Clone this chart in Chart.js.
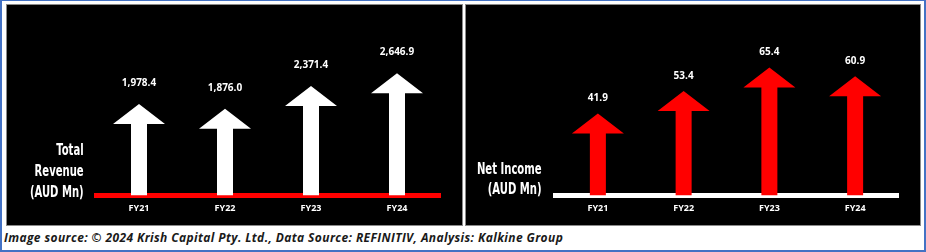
<!DOCTYPE html>
<html><head><meta charset="utf-8">
<script src="https://cdn.jsdelivr.net/npm/chart.js@4"></script>
<style>
html,body{margin:0;padding:0;background:#fff;}
#frame{position:absolute;left:0;top:0;width:926px;height:252px;box-sizing:border-box;border:2px solid #4472C4;border-top-width:1px;background:#fff;}
.panel{position:absolute;top:4px;height:222px;box-sizing:border-box;border:1px solid #8a8a8a;background:#000;}
#p1{left:6px;width:457px;} #p2{left:465px;width:456px;}
.panel canvas{position:absolute;left:0;top:0;}
.ytitle{position:absolute;color:#fff;font-family:'Liberation Sans Narrow','DejaVu Sans Condensed',Roboto,sans-serif;font-weight:bold;font-size:15.5px;text-align:right;transform-origin:right center;white-space:nowrap;}
#foot{position:absolute;left:4px;top:231px;font:italic 700 12px 'Open Sans',sans-serif;line-height:14px;color:#1a1a1a;white-space:nowrap;}
</style></head>
<body>
<div id="frame"></div>
<div class="panel" id="p1"><canvas id="c1" width="455" height="220"></canvas></div>
<div class="panel" id="p2"><canvas id="c2" width="454" height="220"></canvas></div>
<div class="ytitle" id="t1" style="right:842px;top:140px;line-height:21px;" data-w="54">Total<br>Revenue<br>(AUD Mn)</div>
<div class="ytitle" id="t2" style="right:384px;top:158.5px;line-height:20px;" data-w="65">Net Income<br>(AUD Mn)</div>
<div id="foot" data-w="559">Image source: © 2024 Krish Capital Pty. Ltd., Data Source: REFINITIV, Analysis: Kalkine Group</div>
<script>
const categories = ['FY21', 'FY22', 'FY23', 'FY24'];
const totalRevenue = [1978.4, 1876.0, 2371.4, 2646.9];
const netIncome = [41.9, 53.4, 65.4, 60.9];

const fmt = v => v.toLocaleString('en-US', {minimumFractionDigits: 1, maximumFractionDigits: 1});

// fit condensed titles and footer to the reference widths
document.querySelectorAll('.ytitle').forEach(el => {
  const s = (+el.dataset.w) / el.offsetWidth;
  el.style.transform = 'scaleX(' + s + ')';
});
(function () {
  const f = document.getElementById('foot');
  const n = f.textContent.length;
  const extra = (+f.dataset.w) - f.offsetWidth;
  f.style.letterSpacing = (extra / n) + 'px';
})();

function arrowPlugin(color, labelGap) {
  return {
    id: 'arrows',
    afterDatasetsDraw(chart) {
      const ctx = chart.ctx;
      const meta = chart.getDatasetMeta(0);
      const vals = chart.data.datasets[0].data;
      meta.data.forEach((bar, i) => {
        const x = bar.x, y = bar.y, base = bar.base;
        const hw = 26, hh = 20, sw = bar.width / 2;
        ctx.save();
        ctx.fillStyle = color;
        ctx.beginPath();
        ctx.moveTo(x, y);
        ctx.lineTo(x + hw, y + hh);
        ctx.lineTo(x + sw, y + hh);
        ctx.lineTo(x + sw, base);
        ctx.lineTo(x - sw, base);
        ctx.lineTo(x - sw, y + hh);
        ctx.lineTo(x - hw, y + hh);
        ctx.closePath();
        ctx.fill();
        ctx.fillStyle = '#ffffff';
        ctx.font = 'bold 10px "Open Sans"';
        ctx.textAlign = 'center';
        ctx.textBaseline = 'middle';
        ctx.fillText(fmt(vals[i]), x, y - labelGap);
        ctx.restore();
      });
    }
  };
}

function makeChart(id, values, color, axisColor, max, padTop, padRight, labelGap) {
  return new Chart(document.getElementById(id), {
    type: 'bar',
    data: {labels: categories, datasets: [{data: values, backgroundColor: 'rgba(0,0,0,0)', borderWidth: 0, barThickness: 16}]},
    options: {
      responsive: false, animation: false, devicePixelRatio: 1,
      layout: {padding: {left: 89, right: padRight, top: padTop, bottom: 3}},
      plugins: {legend: {display: false}, tooltip: {enabled: false}},
      scales: {
        x: {z: 1, grid: {display: false, drawTicks: false},
            border: {display: true, color: axisColor, width: 5},
            ticks: {color: '#ffffff', font: {family: 'Open Sans', weight: 'bold', size: 9}, padding: 8}},
        y: {display: false, min: 0, max: max}
      }
    },
    plugins: [arrowPlugin(color, labelGap)]
  });
}

makeChart('c1', totalRevenue, '#ffffff', '#ff0000', 3000, 52, 22, 21);
makeChart('c2', netIncome, '#ff0000', '#ffffff', 70, 53.5, 22, 15);
</script>
</body></html>
